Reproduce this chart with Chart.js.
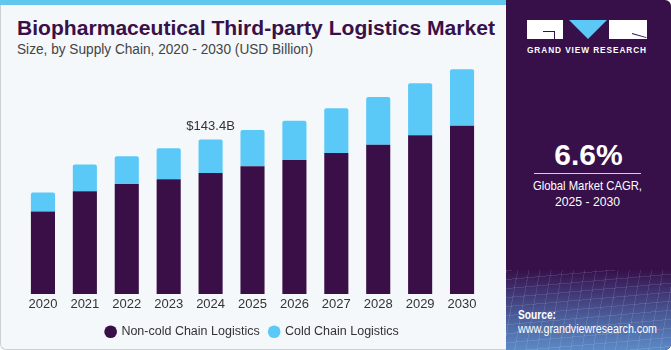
<!DOCTYPE html>
<html><head><meta charset="utf-8">
<script src="https://cdn.jsdelivr.net/npm/chart.js@4.4.1/dist/chart.umd.min.js"></script>
<style>
html,body{margin:0;padding:0;width:671px;height:350px;overflow:hidden;background:#ffffff;font-family:"Liberation Sans",Arial,sans-serif;}
#card{position:absolute;left:0;top:0;width:507px;height:350px;background:#f4f8fb;border:1px solid #cdd1d4;border-top:none;border-right:none;border-radius:0 0 0 6px;box-sizing:border-box;}
#strip{position:absolute;left:0;top:0;width:507px;height:5px;background:#62c7ee;}
.fit{position:absolute;white-space:nowrap;transform-origin:left top;}
#title{left:17px;top:18px;font-weight:bold;font-size:20px;line-height:20px;color:#3a1048;}
#sub{left:17px;top:42px;font-size:14px;line-height:14px;color:#444;}
#chartBox{position:absolute;left:0;top:57px;width:506px;height:293px;}
#panel{position:absolute;left:506px;top:0;width:165px;height:350px;background:#37104a;border-radius:0 6px 6px 0;overflow:hidden;}
#wave{position:absolute;left:0;bottom:0;width:165px;height:80px;
 background:
 repeating-linear-gradient(100deg, rgba(255,255,255,0.10) 0 1px, transparent 1px 11px),
 repeating-linear-gradient(175deg, rgba(255,255,255,0.10) 0 1px, transparent 1px 9px),
 linear-gradient(to bottom, rgba(55,16,74,1) 0%, #3f3170 25%, #4b5f9c 60%, #5b8ac6 100%);}
.w{position:absolute;background:#fff;}
.gl{position:absolute;background:#37104a;}
#tri{position:absolute;left:63px;top:20px;width:0;height:0;border-left:19px solid transparent;border-right:19px solid transparent;border-top:19px solid #5bc8f5;}
#brand{left:21px;top:46px;font-weight:bold;font-size:9px;line-height:9px;color:#fff;letter-spacing:1px;}
#cagr{position:absolute;left:0;width:165px;top:140px;text-align:center;font-weight:bold;font-size:30px;line-height:30px;color:#fff;}
#hr{position:absolute;left:28px;top:173px;width:107px;height:1px;background:#d8cfe0;}
.pt{color:#fff;font-size:13px;line-height:14px;}
.src{color:#fff;font-size:12px;line-height:13px;}
</style></head>
<body>
<div id="card"></div>
<div id="strip"></div>
<div id="title" class="fit" data-w="478">Biopharmaceutical Third-party Logistics Market</div>
<div id="sub" class="fit" data-w="296">Size, by Supply Chain, 2020 - 2030 (USD Billion)</div>
<div id="chartBox"><canvas id="c" width="506" height="293"></canvas></div>
<div id="panel">
  <div id="wave"></div>
  <div class="w" style="left:21px;top:20px;width:36px;height:19px;"></div>
  <div class="gl" style="left:37px;top:31px;width:12px;height:1px;"></div>
  <div class="gl" style="left:48px;top:31px;width:1px;height:8px;"></div>
  <div id="tri"></div>
  <div class="w" style="left:103px;top:20px;width:38px;height:19px;"></div>
  <div style="position:absolute;left:126px;top:33px;width:15px;height:1px;background:#37104a;transform:rotate(16deg);transform-origin:left center;"></div>
  <div id="brand" class="fit" data-w="120">GRAND VIEW RESEARCH</div>
  <div id="cagr">6.6%</div>
  <div id="hr"></div>
  <div class="pt fit" style="left:27px;top:179px;" data-w="109">Global Market CAGR,</div>
  <div class="pt fit" style="left:49px;top:195px;" data-w="65">2025 - 2030</div>
  <div class="src fit" style="left:12px;top:309px;font-weight:bold;" data-w="38">Source:</div>
  <div class="src fit" style="left:12px;top:323px;" data-w="139">www.grandviewresearch.com</div>
</div>
<script>
// ---- data ----
const years = ['2020','2021','2022','2023','2024','2025','2026','2027','2028','2029','2030'];
const nonColdChain = [76.5, 95.4, 102.0, 106.4, 112.2, 118.5, 124.4, 130.9, 138.4, 147.4, 156.1];
const coldChain = [17.7, 24.7, 25.8, 28.9, 31.2, 33.6, 36.4, 41.4, 44.5, 48.3, 52.6];
const seriesNames = ['Non-cold Chain Logistics', 'Cold Chain Logistics'];
const calloutIndex = 4;
const calloutText = '$143.4B';

document.querySelectorAll('.fit[data-w]').forEach(el => {
  const target = parseFloat(el.dataset.w);
  const w = el.getBoundingClientRect().width;
  if (w > 0) el.style.transform = 'scaleX(' + (target / w) + ')';
});

const callout = {
  id: 'callout',
  afterDatasetsDraw(chart) {
    const meta = chart.getDatasetMeta(1);
    const el = meta.data[calloutIndex];
    if (!el) return;
    const ctx = chart.ctx;
    ctx.save();
    ctx.font = '13px "Liberation Sans", Arial, sans-serif';
    ctx.fillStyle = '#333333';
    ctx.textAlign = 'center';
    ctx.textBaseline = 'alphabetic';
    ctx.fillText(calloutText, el.x, el.y - 9);
    ctx.restore();
  }
};

new Chart(document.getElementById('c'), {
  type: 'bar',
  data: {
    labels: years,
    datasets: [
      { label: seriesNames[0], data: nonColdChain, backgroundColor: '#3a0f48', borderRadius: 0 },
      { label: seriesNames[1], data: coldChain, backgroundColor: '#5bc9f7',
        borderRadius: {topLeft: 2, topRight: 2, bottomLeft: 0, bottomRight: 0} }
    ]
  },
  options: {
    responsive: false,
    animation: false,
    layout: { padding: { left: 22, right: 23, top: 0, bottom: 2 } },
    datasets: { bar: { categoryPercentage: 1, barPercentage: 0.575 } },
    scales: {
      x: {
        stacked: true,
        grid: { display: false, drawTicks: false },
        border: { display: false },
        ticks: { color: '#333333', padding: 3, font: { size: 13, family: '"Liberation Sans", Arial, sans-serif' } }
      },
      y: { stacked: true, display: false, min: 0, max: 220 }
    },
    plugins: {
      tooltip: { enabled: false },
      legend: {
        position: 'bottom',
        labels: {
          usePointStyle: true, pointStyle: 'circle', boxWidth: 9, boxHeight: 9, padding: 10,
          color: '#333333', font: { size: 12.5, family: '"Liberation Sans", Arial, sans-serif' }
        }
      }
    }
  },
  plugins: [callout]
});
</script>
</body></html>
